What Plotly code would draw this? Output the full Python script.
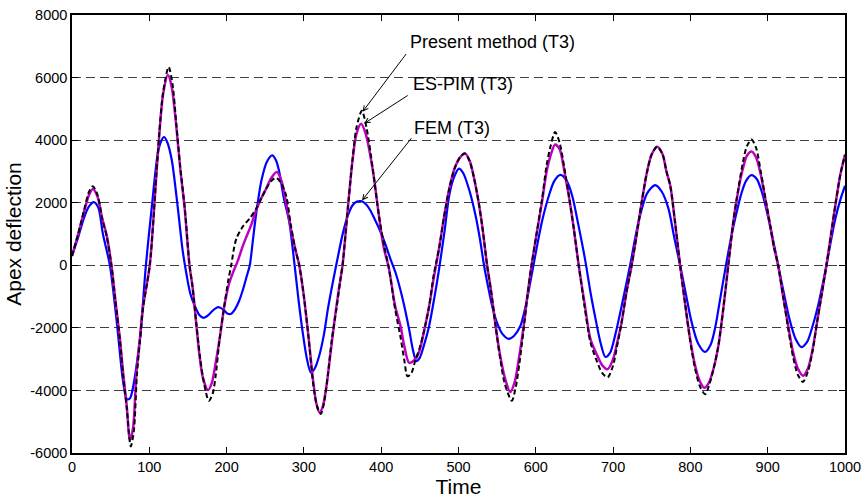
import plotly.graph_objects as go

# ---------------- data ----------------
fem_t = [0, 8, 16, 22, 28, 34, 40, 49, 58, 66, 71, 75, 78, 83, 88, 95.6, 103, 111, 115, 119, 123, 129, 137, 143,
         148, 153, 159, 165, 170, 176, 182, 189, 196, 201, 206, 211, 216, 221, 226, 230, 234, 238, 245, 252, 259,
         264, 268, 274, 281, 288, 293, 298.5, 304, 309, 314, 320, 326, 331, 337, 343, 350, 357, 363, 368, 374, 380,
         386, 392, 397, 405, 412, 419, 428, 436, 441, 445.5, 450, 456, 462, 469, 475, 482, 488, 494, 500.6, 506,
         514, 522, 528, 533, 538, 543.6, 550, 557, 565, 572, 580, 586, 591, 599.6, 608, 617, 624, 632, 640, 647,
         655, 664, 671, 678, 684, 690, 696, 703, 711, 722, 733, 744, 754.5, 763, 771.6, 779, 786.7, 794, 801.7,
         810, 819, 826, 832, 839, 846, 852, 858, 866, 872, 879, 886, 893, 900, 907, 913.5, 921, 928, 936, 943.6,
         951, 958, 965, 972, 976, 986.7, 994, 1000]
fem_v = [300, 900, 1550, 1880, 2020, 1850, 1000, 0, -1830, -3700, -4280, -4250, -4020, -3300, -2350, 0, 1810, 3580,
         3950, 4100, 3950, 3375, 1810, 500, -270, -900, -1310, -1600, -1680, -1600, -1450, -1340, -1420, -1540,
         -1550, -1400, -1150, -790, -350, 0, 800, 1600, 2700, 3300, 3510, 3350, 3000, 2150, 1400, 0, -1100, -2150,
         -3000, -3430, -3300, -2875, -2200, -1400, -600, 150, 980, 1600, 1920, 2030, 2050, 1960, 1750, 1450, 1190,
         700, 200, -270, -1100, -2030, -2700, -3060, -2950, -2500, -1940, -1000, -100, 1100, 2230, 2800, 3090,
         2950, 2400, 1600, 800, 0, -650, -1310, -1850, -2200, -2350, -2250, -1940, -1400, -790, 350, 1400, 2230,
         2700, 2890, 2700, 2230, 1300, 150, -900, -1800, -2500, -2930, -2800, -2200, -1310, 0, 1400, 2300, 2560,
         2350, 1810, 900, 0, -900, -1830, -2500, -2770, -2550, -2000, -1000, 0, 800, 1500, 2300, 2700, 2880, 2750,
         2300, 1600, 800, 0, -900, -1700, -2350, -2615, -2450, -1950, -1310, -500, 0, 1400, 2100, 2540]

espim_t = [0, 8, 16, 22, 27, 33, 39, 44.7, 51, 56, 62, 66, 70.6, 75, 79, 83.4, 88, 92, 100.6, 109, 113, 117.8, 124,
           129, 135, 140, 145.8, 152, 156, 161, 165, 169.4, 176, 181, 186, 191, 197, 203, 208, 214.6, 220, 225, 232,
           238, 245, 251, 258, 265, 271, 277, 283, 289, 294, 300, 306, 312, 316, 320, 324, 329, 334, 340, 345, 350,
           356, 363, 368, 374, 380, 389, 397, 403, 410, 418, 425, 430, 436, 442, 449, 455, 462, 468, 475, 481, 488,
           495, 502, 509, 515, 520, 526, 531, 537, 542, 548, 554, 560, 567, 573, 578, 584, 589, 594.5, 601, 608, 614,
           619, 625, 631, 637, 642.6, 649, 655.5, 663, 670.6, 678, 686, 693, 700, 705, 711, 717, 724, 730, 737, 744,
           750, 757, 764, 769, 774, 780, 786.7, 793, 799.6, 806, 812, 818, 824, 830, 836, 842, 849, 855, 862, 868,
           873, 879, 885, 891, 897, 903, 908, 913.5, 920, 927, 933, 939, 945.8, 952, 958, 964, 970, 976, 982, 988,
           994, 1000]
espim_v = [300, 1000, 1750, 2250, 2440, 2200, 1500, 980, 0, -1100, -2350, -3400, -4440, -5580, -5200, -3400, -2300,
           -1310, 0, 2850, 4200, 5460, 6080, 5700, 4420, 3100, 1810, 0, -700, -1940, -2900, -3600, -3990, -3750,
           -3100, -2350, -1310, -600, -250, 150, 550, 875, 1300, 1750, 2150, 2440, 2800, 2980, 2700, 2000, 1200, 500,
           0, -1000, -2300, -3700, -4400, -4700, -4550, -3900, -2900, -1700, -800, 0, 1600, 3375, 4200, 4520, 4200,
           3060, 1600, 600, -100, -1300, -1940, -2600, -3115, -3050, -2770, -2150, -1310, -400, 560, 1500, 2440,
           3100, 3450, 3560, 3300, 2800, 2020, 1200, 0, -800, -1940, -2900, -3600, -4050, -3700, -3000, -2000, -1000,
           0, 1000, 2020, 3000, 3500, 3860, 3700, 3000, 2230, 1200, 0, -1200, -2350, -2800, -3200, -3320, -3000,
           -2500, -1830, -900, 0, 900, 2020, 3000, 3550, 3790, 3550, 3000, 2540, 1400, 0, -1200, -2350, -3200, -3700,
           -3917, -3750, -3300, -2600, -1500, 0, 1300, 2400, 3100, 3500, 3640, 3450, 2900, 2100, 1300, 600, 0, -1000,
           -2000, -2800, -3300, -3530, -3300, -2700, -1800, -900, 0, 1000, 2000, 2900, 3530]

present_t = [0, 8, 16, 22, 27, 33, 39, 45, 51, 56, 62, 66, 71, 76, 80, 84, 88, 92, 100.6, 109, 113, 118, 125, 130,
             135, 140, 146, 152, 156, 161, 166, 171, 177, 182, 186, 191, 197, 202, 206, 210, 213, 221, 230, 238, 245,
             251, 258, 264, 270, 277, 283, 289, 294, 300, 306, 312, 317, 322, 326, 331, 336, 342, 347, 350, 356, 363,
             368, 375, 381, 389, 397, 404, 410, 418, 425, 430, 434, 439, 444, 449, 455, 462, 468, 475, 481, 488, 495,
             502, 508, 514, 520, 526, 531, 537, 542, 548, 554, 560, 569, 574, 579, 584, 589, 594.5, 601, 608, 614,
             619, 625, 631, 637, 643, 649, 655.5, 663, 670.6, 678, 686, 693, 700, 705, 711, 717, 724, 730, 737, 744,
             750, 757, 764, 769, 774, 780, 786.7, 793, 799.6, 806, 812, 819, 824, 830, 836, 842, 849, 855, 862, 868,
             873, 879, 885, 891, 897, 903, 908, 913.5, 920, 927, 933, 939, 945.5, 952, 958, 964, 970, 976, 982, 988,
             994, 1000]
present_v = [300, 1000, 1800, 2350, 2530, 2250, 1500, 900, 0, -1100, -2400, -3500, -4600, -5790, -5300, -3500, -2400,
             -1350, 0, 2850, 4250, 5550, 6340, 5800, 4500, 3150, 1800, 0, -700, -1900, -3000, -3800, -4330, -4100,
             -3500, -2350, -1310, -500, 0, 600, 875, 1240, 1500, 1800, 2150, 2440, 2700, 2800, 2650, 2230, 1300, 500,
             0, -1000, -2300, -3800, -4500, -4750, -4400, -3500, -2400, -1400, -500, 0, 1600, 3400, 4400, 4940, 4400,
             3100, 1600, 600, -100, -1400, -2300, -3050, -3550, -3450, -3050, -2700, -2150, -1310, -300, 560, 1500,
             2440, 3100, 3450, 3580, 3350, 2800, 2020, 1200, 0, -800, -1940, -3000, -3800, -4330, -3900, -3100, -2100,
             -1000, 0, 1000, 2100, 3200, 3800, 4260, 3900, 3100, 2200, 1200, 0, -1300, -2450, -3000, -3450, -3580,
             -3200, -2600, -1830, -900, 0, 900, 2020, 3000, 3550, 3790, 3550, 3000, 2540, 1400, 0, -1200, -2400, -3300,
             -3850, -4125, -3850, -3300, -2600, -1500, 0, 1300, 2450, 3300, 3800, 4020, 3750, 3000, 2150, 1300, 600, 0,
             -1000, -2100, -2950, -3500, -3730, -3400, -2750, -1800, -900, 0, 1000, 2000, 2900, 3530]

x_ticks = [0, 100, 200, 300, 400, 500, 600, 700, 800, 900, 1000]
y_ticks = [-6000, -4000, -2000, 0, 2000, 4000, 6000, 8000]
y_tick_text = ["-6000", "-4000", "-2000", "0", "2000", "4000", "6000", "8000"]

labels = ["Present method (T3)", "ES-PIM (T3)", "FEM (T3)"]
# arrow heads (data) pointing at the curves near t ~ 375
arrow_heads = [(375.9, 4906), (378.0, 4531), (375.1, 2072)]
arrow_tails_px = [(44.7, -59.3), (45.0, -29.0), (50.6, -63.7)]
label_pos = [(434.8, 7125), (438.7, 5781), (440.0, 4375)]

# ---------------- figure ----------------
fig = go.Figure()
fig.add_trace(go.Scatter(x=fem_t, y=fem_v, mode="lines", name="FEM (T3)",
                         line=dict(color="#0000FF", width=2.2, shape="spline", smoothing=0.8)))
fig.add_trace(go.Scatter(x=espim_t, y=espim_v, mode="lines", name="ES-PIM (T3)",
                         line=dict(color="#C000C0", width=2.5, shape="spline", smoothing=0.8)))
fig.add_trace(go.Scatter(x=present_t, y=present_v, mode="lines", name="Present method (T3)",
                         line=dict(color="black", width=2, dash="5px,3px", shape="spline", smoothing=0.8)))

font_family = "Liberation Sans, Arial, Helvetica, sans-serif"
annotations = []
for lab, (hx, hy), (ax, ay), (lx, ly) in zip(labels, arrow_heads, arrow_tails_px, label_pos):
    annotations.append(dict(x=hx, y=hy, xref="x", yref="y", text="", showarrow=True,
                            ax=ax, ay=ay, axref="pixel", ayref="pixel",
                            arrowhead=5, arrowsize=1, arrowwidth=1, arrowcolor="black",
                            standoff=0, startstandoff=0))
    annotations.append(dict(x=lx, y=ly, xref="x", yref="y", text=lab, showarrow=False,
                            xanchor="left", yanchor="middle",
                            font=dict(family=font_family, size=18, color="black")))

fig.update_layout(
    width=868, height=499,
    margin=dict(l=72, r=21, t=7, b=44),
    paper_bgcolor="white", plot_bgcolor="white",
    showlegend=False,
    font=dict(family=font_family, color="black"),
    annotations=annotations,
)
fig.update_xaxes(range=[0, 1000], tickvals=x_ticks, ticks="inside", ticklen=6, tickwidth=1,
                 tickcolor="black", showline=True, linecolor="black", linewidth=1.5, mirror="allticks",
                 showgrid=False, zeroline=False, tickfont=dict(size=14.5),
                 title=dict(text="Time", font=dict(size=21), standoff=2))
fig.update_yaxes(range=[-6000, 8000], tickvals=y_ticks, ticktext=y_tick_text, ticks="inside", ticklen=6,
                 tickwidth=1, tickcolor="black", showline=True, linecolor="black", linewidth=1.5,
                 mirror="allticks", showgrid=True, gridcolor="#404040", gridwidth=1, griddash="9px,5px",
                 zeroline=False, tickfont=dict(size=14.5),
                 title=dict(text="Apex deflection", font=dict(size=21), standoff=3))

fig.write_html("out.html")
